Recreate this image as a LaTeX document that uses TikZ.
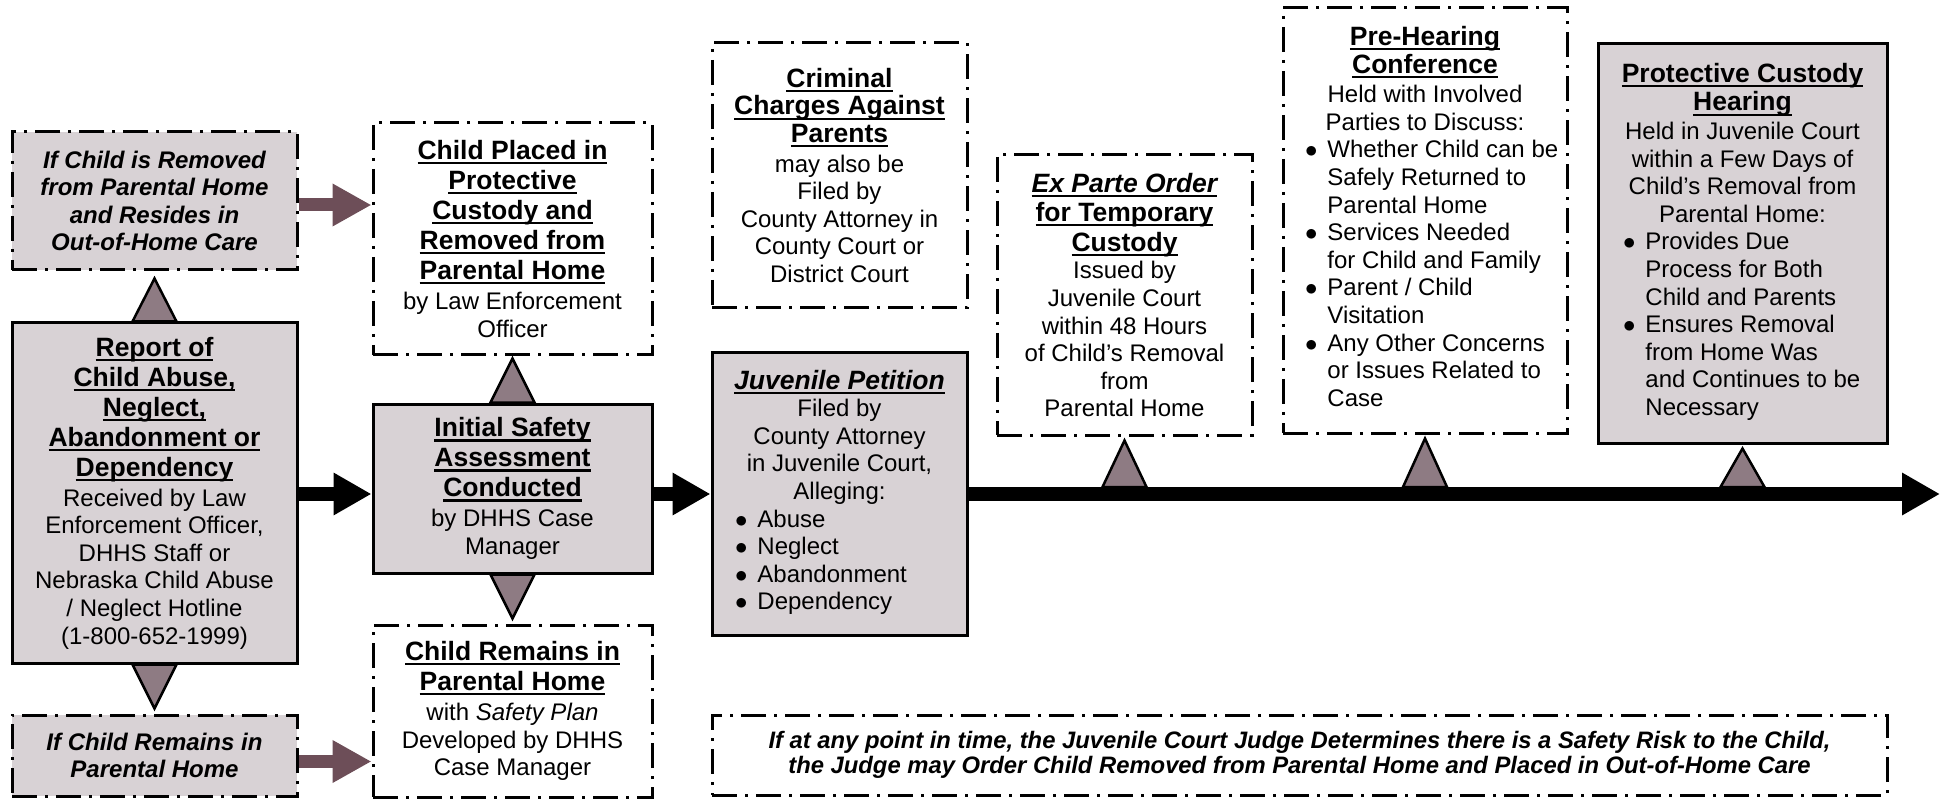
\documentclass[tikz,border=0pt]{standalone}
\usepackage{fontspec}
\setmainfont{Liberation Sans}
\usetikzlibrary{positioning}
\usetikzlibrary{calc,arrows.meta}

\definecolor{boxgray}{RGB}{216,210,213}
\definecolor{tipgray}{RGB}{142,123,131}
\definecolor{pushmauve}{RGB}{109,78,88}

\newcommand{\mainsize}{\fontsize{24}{27.6}\selectfont}
\newcommand{\uln}[1]{\begingroup\setbox0=\hbox{#1}\rlap{\rule[-4.8pt]{\wd0}{2.2pt}}\box0\endgroup}
\newcommand{\hd}[1]{{\fontsize{26.5}{30}\selectfont\bfseries\uln{#1}}}
\newcommand{\hdi}[1]{{\fontsize{26.5}{30}\selectfont\bfseries\itshape\uln{#1}}}
\newcommand{\bul}{$\bullet$}
\newcommand{\blist}[2]{\makebox[#1pt][l]{\begin{tabular}[t]{@{}l@{\hspace{10pt}}l@{}}#2\end{tabular}}}

\begin{document}
\begin{tikzpicture}[x=1pt,y=-1pt]

	\tikzstyle{open box}=[draw,line width=3pt,dash pattern=on 25pt off 8pt on 3pt off 8pt,inner sep=0pt,align=center,font=\mainsize]
	\tikzstyle{shaded box}=[open box,solid,fill=boxgray]
	\tikzstyle{tip}=[draw,line width=2.5pt,fill=tipgray,line join=miter]
	\tikzstyle{push}=[line width=13pt,draw=pushmauve,-{Triangle[length=39pt,width=40pt]}]
	\tikzstyle{flow}=[line width=14pt,-{Triangle[length=38pt,width=40pt]}]

	\useasboundingbox (0,0) rectangle (1946,799);

	% Start:
	\node[open box,fill=boxgray,minimum width=285,minimum height=138,font=\mainsize\bfseries\itshape] at (154.5,201) (removed)
		{If Child is Removed\\from Parental Home\\and Resides in\\Out-of-Home Care};
	\node[shaded box,minimum width=285,minimum height=340] at (154.5,493) (report)
		{\hd{Report of}\\[2.4pt]\hd{Child Abuse,}\\[2.4pt]\hd{Neglect,}\\[2.4pt]\hd{Abandonment or}\\[2.4pt]\hd{Dependency}\\[2.4pt]Received by Law\\Enforcement Officer,\\DHHS Staff or\\Nebraska Child Abuse\\/ Neglect Hotline\\(1-800-652-1999)};
	\node[open box,fill=boxgray,minimum width=285,minimum height=81,font=\mainsize\bfseries\itshape] at (154.5,755.5) (remainsleft)
		{If Child Remains in\\Parental Home};

	% Assessment:
	\node[open box,minimum width=279,minimum height=232] at (512.5,239) (placed)
		{\hd{Child Placed in}\\[2.4pt]\hd{Protective}\\[2.4pt]\hd{Custody and}\\[2.4pt]\hd{Removed from}\\[2.4pt]\hd{Parental Home}\\[2.4pt]by Law Enforcement\\Officer};
	\node[shaded box,minimum width=279,minimum height=169] at (512.5,488.5) (initial)
		{\hd{Initial Safety}\\[2.4pt]\hd{Assessment}\\[2.4pt]\hd{Conducted}\\[2.4pt]by DHHS Case\\Manager};
	\node[open box,minimum width=279,minimum height=172] at (512.5,711) (remains)
		{\hd{Child Remains in}\\[2.4pt]\hd{Parental Home}\\[2.4pt]with \textit{Safety Plan}\\Developed by DHHS\\Case Manager};

	% Court:
	\node[open box,minimum width=255,minimum height=265] at (839.5,175.5) (criminal)
		{\hd{Criminal}\\\hd{Charges Against}\\\hd{Parents}\\[2pt]may also be\\Filed by\\County Attorney in\\County Court or\\District Court};
	\node[shaded box,minimum width=255,minimum height=282] at (839.5,494) (petition)
		{\hdi{Juvenile Petition}\\Filed by\\County Attorney\\in Juvenile Court,\\Alleging:\\
		\blist{209}{\bul & Abuse\\ \bul & Neglect\\ \bul & Abandonment\\ \bul & Dependency}};
	\node[open box,minimum width=255,minimum height=280] at (1124.5,295) (exparte)
		{\hdi{Ex Parte Order}\\[2pt]\hd{for Temporary}\\[2pt]\hd{Custody}\\Issued by\\Juvenile Court\\within 48 Hours\\of Child’s Removal\\from\\Parental Home};
	\node[open box,minimum width=284,minimum height=425] at (1425,220.5) (prehearing)
		{\hd{Pre-Hearing}\\\hd{Conference}\\[2pt]Held with Involved\\Parties to Discuss:\\
		\blist{240}{\bul & Whether Child can be\\ & Safely Returned to\\ & Parental Home\\ \bul & Services Needed\\ & for Child and Family\\ \bul & Parent / Child\\ & Visitation\\ \bul & Any Other Concerns\\ & or Issues Related to\\ & Case}};
	\node[shaded box,minimum width=289,minimum height=399] at (1742.5,243.5) (protective)
		{\hd{Protective Custody}\\[1pt]\hd{Hearing}\\[1pt]Held in Juvenile Court\\within a Few Days of\\Child’s Removal from\\Parental Home:\\
		\blist{239}{\bul & Provides Due\\ & Process for Both\\ & Child and Parents\\ \bul & Ensures Removal\\ & from Home Was\\ & and Continues to be\\ & Necessary}};
	\node[open box,minimum width=1175,minimum height=80,font=\fontsize{23.8}{25}\selectfont\bfseries\itshape] at (1299.5,755) (note)
		{If at any point in time, the Juvenile Court Judge Determines there is a Safety Risk to the Child,\\the Judge may Order Child Removed from Parental Home and Placed in Out-of-Home Care};

	% Pointers:
	\draw[tip] ($(report.north)+(-22,0)$) -- ($(removed.south)+(0,7)$) -- ($(report.north)+(22,0)$) -- cycle;
	\draw[tip] ($(report.south)+(-22,0)$) -- ($(remainsleft.north)+(0,-5)$) -- ($(report.south)+(22,0)$) -- cycle;
	\draw[tip] ($(initial.north)+(-22,0)$) -- ($(placed.south)+(0,2)$) -- ($(initial.north)+(22,0)$) -- cycle;
	\draw[tip] ($(initial.south)+(-22,0)$) -- ($(remains.north)+(0,-5)$) -- ($(initial.south)+(22,0)$) -- cycle;

	\coordinate (tend) at (1940,494);
	\foreach \b in {exparte,prehearing,protective}
		\draw[tip] ($(\b.south |- tend)+(-22,-7)$) -- ($(\b.south)+(0,4)$) -- ($(\b.south |- tend)+(22,-7)$) -- cycle;

	\draw[push] ($(removed.east)+(0,4)$) -- ($(removed.east -| placed.west)+(0,4)$);
	\draw[push] ($(remainsleft.east)+(0,6)$) -- ($(remainsleft.east -| remains.west)+(0,6)$);
	\draw[flow] (report.east |- petition) -- (initial.west |- petition);
	\draw[flow] (initial.east |- petition) -- (petition.west);
	\draw[flow] (petition.east) -- (tend);

\end{tikzpicture}
\end{document}
